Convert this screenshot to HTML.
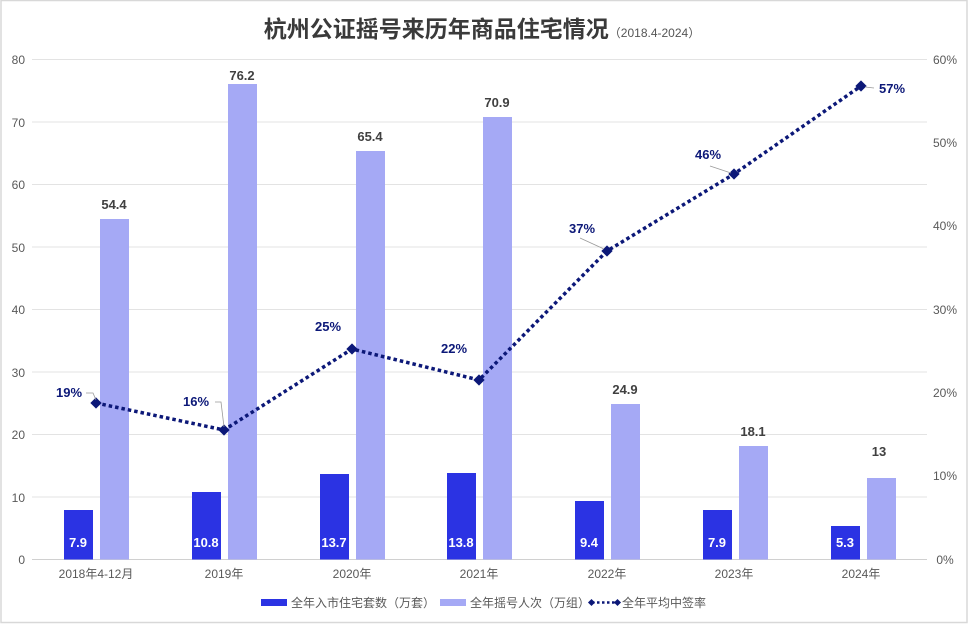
<!DOCTYPE html>
<html><head><meta charset="utf-8"><style>
html,body{margin:0;padding:0;background:#fff}
svg{display:block;font-family:"Liberation Sans","Noto Sans CJK SC",sans-serif}
</style></head><body>
<svg width="969" height="624" viewBox="0 0 969 624" xmlns="http://www.w3.org/2000/svg">
<rect x="1" y="0.5" width="966" height="622" fill="#fff" stroke="#d8d8d8" stroke-width="1.5"/>
<text x="482" y="37" text-anchor="middle" font-size="23" font-weight="bold" fill="#3a3a3a">杭州公证摇号来历年商品住宅情况<tspan font-size="12" font-weight="normal" fill="#555">（2018.4-2024）</tspan></text>
<g stroke="#e3e3e3" stroke-width="1">
<line x1="32" x2="927" y1="59.5" y2="59.5"/><line x1="32" x2="927" y1="122" y2="122"/>
<line x1="32" x2="927" y1="184.5" y2="184.5"/><line x1="32" x2="927" y1="247" y2="247"/>
<line x1="32" x2="927" y1="309.5" y2="309.5"/><line x1="32" x2="927" y1="372" y2="372"/>
<line x1="32" x2="927" y1="434.5" y2="434.5"/><line x1="32" x2="927" y1="497" y2="497"/>
</g>
<line x1="32" x2="927" y1="559.5" y2="559.5" stroke="#d0d0d0"/>
<g font-size="12" fill="#595959" text-anchor="end">
<text x="25" y="64">80</text><text x="25" y="127">70</text><text x="25" y="189">60</text><text x="25" y="252">50</text>
<text x="25" y="314">40</text><text x="25" y="377">30</text><text x="25" y="439">20</text><text x="25" y="502">10</text><text x="25" y="564">0</text>
</g>
<g font-size="12" fill="#595959" text-anchor="middle">
<text x="945" y="64">60%</text><text x="945" y="147">50%</text><text x="945" y="230">40%</text><text x="945" y="314">30%</text>
<text x="945" y="397">20%</text><text x="945" y="480">10%</text><text x="945" y="564">0%</text>
</g>
<g fill="#2b33e3">
<rect x="64" y="510" width="29" height="49.5"/><rect x="192" y="492" width="29" height="67.5"/>
<rect x="320" y="474" width="29" height="85.5"/><rect x="447" y="473" width="29" height="86.5"/>
<rect x="575" y="501" width="29" height="58.5"/><rect x="703" y="510" width="29" height="49.5"/>
<rect x="831" y="526" width="29" height="33.5"/>
</g>
<g fill="#a5a9f5">
<rect x="100" y="219" width="29" height="340.5"/><rect x="228" y="84" width="29" height="475.5"/>
<rect x="356" y="151" width="29" height="408.5"/><rect x="483" y="117" width="29" height="442.5"/>
<rect x="611" y="404" width="29" height="155.5"/><rect x="739" y="446" width="29" height="113.5"/>
<rect x="867" y="478" width="29" height="81.5"/>
</g>
<g font-size="13" font-weight="bold" fill="#fff" text-anchor="middle">
<text x="78" y="547">7.9</text><text x="206" y="547">10.8</text><text x="334" y="547">13.7</text><text x="461" y="547">13.8</text>
<text x="589" y="547">9.4</text><text x="717" y="547">7.9</text><text x="845" y="547">5.3</text>
</g>
<g font-size="13" font-weight="bold" fill="#404040" text-anchor="middle">
<text x="114" y="209">54.4</text><text x="242" y="80">76.2</text><text x="370" y="141">65.4</text><text x="497" y="107">70.9</text>
<text x="625" y="394">24.9</text><text x="753" y="436">18.1</text><text x="879" y="456">13</text>
</g>
<polyline points="96,403 224,430 352,349 479,380 607,251 734,174 861,86" fill="none" stroke="#0c1878" stroke-width="3.5" stroke-dasharray="3.5 3"/>
<g fill="#0c1878">
<rect x="92" y="399" width="8" height="8" transform="rotate(45 96 403)"/><rect x="220" y="426" width="8" height="8" transform="rotate(45 224 430)"/>
<rect x="348" y="345" width="8" height="8" transform="rotate(45 352 349)"/><rect x="475" y="376" width="8" height="8" transform="rotate(45 479 380)"/>
<rect x="603" y="247" width="8" height="8" transform="rotate(45 607 251)"/><rect x="730" y="170" width="8" height="8" transform="rotate(45 734 174)"/>
<rect x="857" y="82" width="8" height="8" transform="rotate(45 861 86)"/>
</g>
<g stroke="#999" fill="none" stroke-width="0.8">
<polyline points="86,393 93,393 96,400"/><polyline points="215,402 221,402 224,427"/>
<polyline points="580,238 604,249"/><polyline points="710,166 731,173"/><polyline points="865,87 874,88"/>
</g>
<g font-size="13" font-weight="bold" fill="#0c1878" text-anchor="middle">
<text x="69" y="397">19%</text><text x="196" y="406">16%</text><text x="328" y="331">25%</text><text x="454" y="353">22%</text>
<text x="582" y="233">37%</text><text x="708" y="159">46%</text><text x="892" y="93">57%</text>
</g>
<g font-size="12" fill="#595959" text-anchor="middle">
<text x="96" y="578">2018年4-12月</text><text x="224" y="578">2019年</text><text x="352" y="578">2020年</text><text x="479" y="578">2021年</text>
<text x="607" y="578">2022年</text><text x="734" y="578">2023年</text><text x="861" y="578">2024年</text>
</g>
<g font-size="12" fill="#595959">
<rect x="261" y="599" width="26" height="7" fill="#2b33e3"/><text x="291" y="607">全年入市住宅套数（万套）</text>
<rect x="440" y="599" width="26" height="7" fill="#a5a9f5"/><text x="470" y="607">全年摇号人次（万组）</text>
<line x1="592" x2="618" y1="602.5" y2="602.5" stroke="#0c1878" stroke-width="2.5" stroke-dasharray="2.5 2.5"/>
<rect x="589" y="600" width="5" height="5" fill="#0c1878" transform="rotate(45 591.5 602.5)"/>
<rect x="615" y="600" width="5" height="5" fill="#0c1878" transform="rotate(45 617.5 602.5)"/>
<text x="622" y="607">全年平均中签率</text>
</g>
</svg>
</body></html>
